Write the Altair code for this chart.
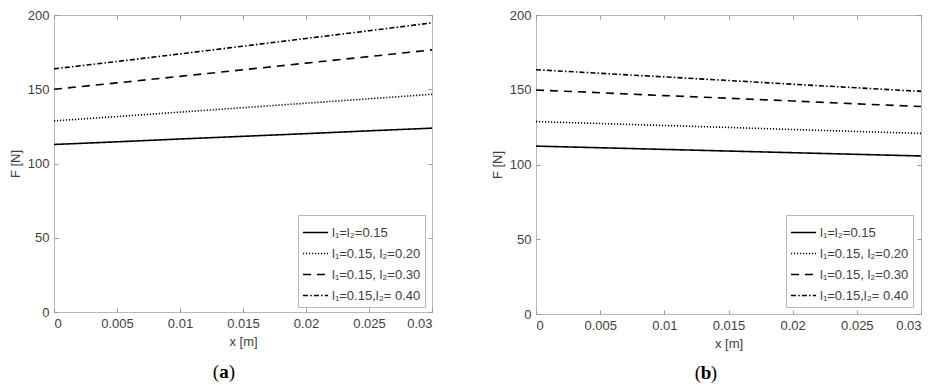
import altair as alt
import pandas as pd

x_vals = [0, 0.005, 0.01, 0.015, 0.02, 0.025, 0.03]
series_names = ["l₁=l₂=0.15", "l₁=0.15, l₂=0.20", "l₁=0.15, l₂=0.30", "l₁=0.15,l₂= 0.40"]

# panel (a)
a_s1 = [112.8, 114.6, 116.5, 118.3, 120.1, 122.0, 123.8]
a_s2 = [128.7, 131.6, 134.6, 137.6, 140.6, 143.6, 146.6]
a_s3 = [150.0, 154.3, 158.7, 163.1, 167.6, 172.0, 176.5]
a_s4 = [163.7, 168.7, 173.8, 179.0, 184.2, 189.4, 194.7]

# panel (b)
b_s1 = [112.3, 111.2, 110.1, 109.0, 107.9, 106.8, 105.7]
b_s2 = [128.7, 127.4, 126.1, 124.8, 123.4, 122.1, 120.8]
b_s3 = [149.8, 148.0, 146.1, 144.3, 142.5, 140.6, 138.8]
b_s4 = [163.4, 161.0, 158.6, 156.2, 153.7, 151.3, 148.9]

x_ticks = [0, 0.005, 0.01, 0.015, 0.02, 0.025, 0.03]
y_ticks = [0, 50, 100, 150, 200]

dashes = [[1, 0], [1.2, 1.8], [8, 6], [5, 2.2, 1.5, 2.2]]

TXT = "#404040"
FRAME = "#b8b8b8"
FONT = "Liberation Sans"


def make_df(series):
    rows = []
    for name, vals in zip(series_names, series):
        for xv, fv in zip(x_vals, vals):
            rows.append({"x": xv, "F": fv, "s": name})
    return pd.DataFrame(rows)


def panel(df, w, h, legend_x, legend_y, cap, cap_x, cap_y):
    xscale = alt.Scale(domain=[0, 0.03], nice=False, zero=False)
    yscale = alt.Scale(domain=[0, 200], nice=False)
    base = alt.Chart(df)
    lines = base.mark_line(strokeWidth=1.6, color="black").encode(
        x=alt.X("x:Q", scale=xscale,
                axis=alt.Axis(values=x_ticks, format="~g", title="x [m]", orient="bottom",
                              offset=-4, tickSize=4, domain=False, labelPadding=5,
                              titlePadding=5, grid=False)),
        y=alt.Y("F:Q", scale=yscale,
                axis=alt.Axis(values=y_ticks, title="F [N]", orient="left",
                              offset=-4, tickSize=4, domain=False, labelPadding=5,
                              titlePadding=5, grid=False)),
        strokeDash=alt.StrokeDash("s:N", scale=alt.Scale(domain=series_names, range=dashes),
                                  legend=alt.Legend(title=None, orient="none",
                                                    legendX=legend_x, legendY=legend_y)),
    )
    frame_axes = base.mark_line(opacity=0).encode(
        x=alt.X("x:Q", scale=xscale,
                axis=alt.Axis(values=x_ticks, orient="top", labels=False, title=None,
                              offset=-4, tickSize=4, domain=False, grid=False)),
        y=alt.Y("F:Q", scale=yscale,
                axis=alt.Axis(values=y_ticks, orient="right", labels=False, title=None,
                              offset=-4, tickSize=4, domain=False, grid=False)),
    )
    cap_df = pd.DataFrame({"t": [cap]})
    lp = alt.Chart(cap_df).mark_text(font="Liberation Serif", fontSize=19, color="black",
                                     dx=-8).encode(
        text=alt.value("("), x=alt.value(cap_x), y=alt.value(cap_y))
    rp = alt.Chart(cap_df).mark_text(font="Liberation Serif", fontSize=19, color="black",
                                     dx=8).encode(
        text=alt.value(")"), x=alt.value(cap_x), y=alt.value(cap_y))
    letter = alt.Chart(cap_df).mark_text(font="Liberation Serif", fontSize=19, fontWeight="bold",
                                         color="black").encode(
        text="t:N", x=alt.value(cap_x), y=alt.value(cap_y))
    return alt.layer(lines, frame_axes, lp, letter, rp).resolve_axis(
        x="independent", y="independent").properties(width=w, height=h)


left = panel(make_df([a_s1, a_s2, a_s3, a_s4]), 378, 297, 244, 200, "a", 170, 357)
right = panel(make_df([b_s1, b_s2, b_s3, b_s4]), 385, 299, 250, 200, "b", 170, 358)

chart = alt.hconcat(left, right, spacing=54).resolve_scale(strokeDash="independent").properties(
    padding={"left": 0, "top": 0, "right": 0, "bottom": 0}
).configure_view(stroke=FRAME, strokeWidth=1).configure_axis(
    labelFont=FONT, titleFont=FONT, labelFontSize=13, titleFontSize=13,
    labelColor=TXT, titleColor=TXT, tickColor="#999999", titleFontWeight="normal"
).configure_legend(
    labelFont=FONT, labelFontSize=13, labelColor=TXT, symbolType="stroke",
    symbolSize=625, symbolStrokeWidth=1.6, symbolStrokeColor="black",
    strokeColor=FRAME, fillColor="white", padding=4, rowPadding=0, labelOffset=3,
    cornerRadius=0
)

chart.save("out.html", embed_options={"renderer": "svg", "actions": False})
